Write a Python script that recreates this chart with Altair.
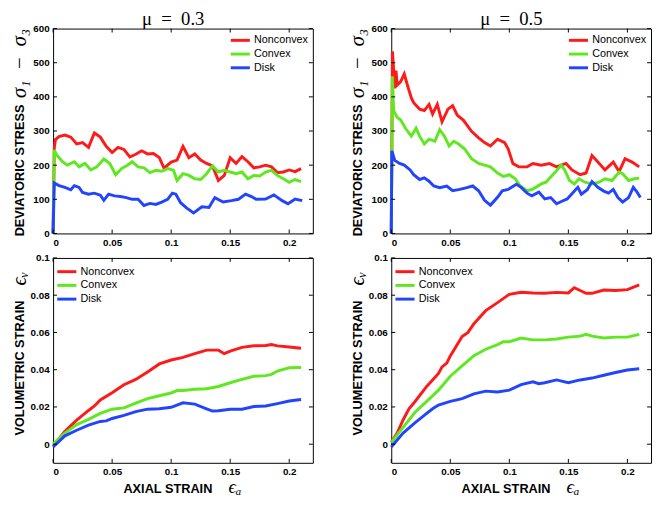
import altair as alt
import pandas as pd

SERIES = ["Nonconvex", "Convex", "Disk"]
COLORS = ["#ff1a1a", "#5fe820", "#2244ff"]

# ---------- mu = 0.3, deviatoric stress ----------
tl_non_x = [0, 0.001, 0.002, 0.005, 0.010, 0.015, 0.020, 0.025, 0.030, 0.035, 0.040, 0.045, 0.050, 0.055, 0.060,
            0.065, 0.070, 0.075, 0.080, 0.085, 0.090, 0.094, 0.100, 0.105, 0.110, 0.115, 0.120, 0.125, 0.130, 0.135,
            0.140, 0.145, 0.150, 0.155, 0.160, 0.165, 0.170, 0.175, 0.180, 0.185, 0.190, 0.195, 0.200, 0.205, 0.210]
tl_non_y = [0, 250, 275, 284, 288, 282, 262, 266, 252, 294, 282, 255, 237, 252, 246,
            224, 232, 242, 233, 234, 222, 191, 209, 215, 255, 222, 233, 215, 205, 198,
            155, 170, 222, 205, 225, 210, 192, 195, 200, 195, 178, 180, 186, 181, 190]
tl_con_x = [0, 0.001, 0.003, 0.008, 0.012, 0.018, 0.022, 0.027, 0.032, 0.037, 0.043, 0.048, 0.053, 0.058, 0.063,
            0.067, 0.072, 0.077, 0.082, 0.087, 0.092, 0.097, 0.102, 0.105, 0.110, 0.115, 0.120, 0.125, 0.130, 0.135,
            0.140, 0.145, 0.150, 0.155, 0.160, 0.165, 0.170, 0.175, 0.180, 0.185, 0.190, 0.195, 0.200, 0.205, 0.210]
tl_con_y = [0, 245, 230, 210, 200, 210, 195, 205, 186, 195, 218, 205, 172, 190, 200,
            210, 195, 192, 178, 185, 182, 190, 185, 155, 175, 170, 160, 158, 175, 198,
            180, 185, 180, 175, 180, 160, 170, 168, 180, 185, 170, 160, 150, 158, 152]
tl_dsk_x = [0, 0.001, 0.005, 0.010, 0.015, 0.018, 0.022, 0.025, 0.030, 0.035, 0.040, 0.043, 0.047, 0.052, 0.057,
            0.062, 0.067, 0.072, 0.077, 0.082, 0.087, 0.092, 0.097, 0.101, 0.104, 0.108, 0.113, 0.119, 0.126, 0.132,
            0.137, 0.144, 0.151, 0.157, 0.163, 0.168, 0.172, 0.180, 0.187, 0.194, 0.199, 0.205, 0.211]
tl_dsk_y = [0, 148, 140, 135, 128, 140, 135, 120, 115, 118, 112, 97, 115, 110, 108,
            105, 100, 100, 82, 88, 85, 92, 100, 118, 115, 90, 75, 60, 78, 76,
            105, 92, 96, 100, 115, 108, 100, 101, 113, 96, 87, 101, 96]

# ---------- mu = 0.5, deviatoric stress ----------
tr_non_x = [0, 0.001, 0.003, 0.004, 0.005, 0.008, 0.011, 0.014, 0.017, 0.019, 0.024, 0.028, 0.032, 0.035, 0.039,
            0.043, 0.048, 0.052, 0.056, 0.061, 0.068, 0.074, 0.079, 0.084, 0.090, 0.096, 0.099, 0.103, 0.108, 0.115,
            0.120, 0.127, 0.134, 0.140, 0.148, 0.153, 0.160, 0.165, 0.170, 0.175, 0.181, 0.188, 0.193, 0.198, 0.204,
            0.210]
tr_non_y = [0, 533, 425, 477, 435, 445, 467, 431, 397, 383, 364, 360, 378, 350, 378,
            327, 364, 374, 346, 332, 299, 280, 266, 256, 276, 266, 248, 205, 195, 195,
            205, 200, 205, 195, 205, 186, 172, 177, 228, 209, 186, 209, 181, 219, 209,
            195]
tr_con_x = [0, 0.001, 0.002, 0.005, 0.008, 0.012, 0.017, 0.021, 0.024, 0.028, 0.032, 0.037, 0.041, 0.045, 0.049,
            0.053, 0.057, 0.062, 0.068, 0.074, 0.079, 0.084, 0.090, 0.095, 0.100, 0.105, 0.109, 0.115, 0.120, 0.127,
            0.131, 0.135, 0.139, 0.144, 0.147, 0.151, 0.155, 0.159, 0.164, 0.170, 0.176, 0.181, 0.187, 0.193, 0.196,
            0.201, 0.206, 0.210]
tr_con_y = [0, 460, 360, 340, 332, 308, 285, 308, 285, 262, 276, 270, 304, 285, 256,
            270, 262, 248, 219, 205, 200, 195, 177, 167, 172, 160, 140, 125, 130, 145,
            150, 165, 180, 200, 185, 155, 145, 160, 150, 145, 150, 160, 155, 180, 175,
            155, 160, 162]
tr_dsk_x = [0, 0.0005, 0.003, 0.007, 0.011, 0.016, 0.019, 0.024, 0.028, 0.032, 0.036, 0.041, 0.047, 0.052, 0.058,
            0.064, 0.069, 0.074, 0.079, 0.084, 0.090, 0.094, 0.099, 0.106, 0.110, 0.115, 0.119, 0.125, 0.130, 0.135,
            0.140, 0.145, 0.149, 0.154, 0.158, 0.161, 0.166, 0.170, 0.175, 0.180, 0.184, 0.188, 0.192, 0.196, 0.201,
            0.205, 0.208, 0.211]
tr_dsk_y = [0, 242, 214, 205, 200, 186, 172, 158, 163, 153, 139, 134, 139, 125, 129,
            134, 139, 125, 97, 83, 106, 125, 129, 144, 135, 118, 110, 121, 101, 105,
            87, 95, 101, 120, 135, 115, 128, 152, 135, 124, 118, 129, 105, 92, 105,
            135, 122, 105]

# ---------- mu = 0.3, volumetric strain ----------
bl_non_x = [0, 0.01, 0.02, 0.03, 0.035, 0.04, 0.05, 0.06, 0.07, 0.08, 0.09, 0.10, 0.11, 0.12, 0.13,
            0.14, 0.145, 0.15, 0.16, 0.17, 0.18, 0.185, 0.19, 0.20, 0.21]
bl_non_y = [-0.001, 0.0069, 0.0129, 0.0181, 0.0205, 0.0238, 0.0276, 0.0319, 0.0348, 0.0388, 0.0431, 0.0452,
            0.0466, 0.0486, 0.0505, 0.0505, 0.0486, 0.050, 0.052, 0.0529, 0.053, 0.0535, 0.0528, 0.0522, 0.0515]
bl_con_x = [0, 0.01, 0.02, 0.03, 0.04, 0.05, 0.06, 0.07, 0.08, 0.09, 0.10, 0.105, 0.11, 0.12, 0.13,
            0.14, 0.15, 0.16, 0.17, 0.18, 0.185, 0.19, 0.20, 0.21]
bl_con_y = [0, 0.006, 0.0105, 0.0133, 0.0165, 0.0188, 0.0195, 0.022, 0.0245, 0.026, 0.0275, 0.0288,
            0.0288, 0.0295, 0.0298, 0.031, 0.033, 0.0348, 0.0365, 0.0368, 0.0375, 0.0393, 0.041, 0.0412]
bl_dsk_x = [0, 0.01, 0.02, 0.03, 0.04, 0.045, 0.05, 0.06, 0.07, 0.08, 0.09, 0.10, 0.11, 0.12, 0.13,
            0.135, 0.14, 0.15, 0.16, 0.17, 0.18, 0.19, 0.20, 0.21]
bl_dsk_y = [-0.0015, 0.0045, 0.0075, 0.0102, 0.0122, 0.0125, 0.0138, 0.0155, 0.0175, 0.0188, 0.019, 0.0198,
            0.0222, 0.0215, 0.019, 0.0178, 0.018, 0.0188, 0.0188, 0.0202, 0.0205, 0.0218, 0.0232, 0.024]

# ---------- mu = 0.5, volumetric strain ----------
br_non_x = [0, 0.005, 0.01, 0.015, 0.02, 0.03, 0.04, 0.043, 0.047, 0.05, 0.06, 0.065, 0.07, 0.08, 0.09,
            0.10, 0.11, 0.12, 0.13, 0.14, 0.15, 0.155, 0.16, 0.165, 0.17, 0.18, 0.19, 0.20, 0.21]
br_non_y = [0.001, 0.006, 0.013, 0.019, 0.0228, 0.031, 0.038, 0.0415, 0.0435, 0.0474, 0.0578, 0.060, 0.0647,
            0.0717, 0.076, 0.0805, 0.0816, 0.0812, 0.081, 0.0815, 0.0812, 0.084, 0.0825, 0.081, 0.081, 0.0828,
            0.0825, 0.083, 0.0855]
br_con_x = [0, 0.01, 0.02, 0.03, 0.04, 0.05, 0.06, 0.07, 0.08, 0.09, 0.095, 0.10, 0.11, 0.12, 0.13,
            0.14, 0.15, 0.16, 0.165, 0.17, 0.18, 0.19, 0.20, 0.21]
br_con_y = [0.001, 0.009, 0.017, 0.023, 0.029, 0.0365, 0.042, 0.0475, 0.051, 0.0535, 0.055, 0.055,
            0.057, 0.056, 0.056, 0.0565, 0.0575, 0.058, 0.059, 0.058, 0.057, 0.0575, 0.0575, 0.059]
br_dsk_x = [0, 0.01, 0.02, 0.03, 0.035, 0.04, 0.05, 0.06, 0.07, 0.08, 0.09, 0.10, 0.11, 0.12, 0.125,
            0.13, 0.14, 0.15, 0.16, 0.17, 0.18, 0.19, 0.20, 0.21]
br_dsk_y = [-0.0015, 0.006, 0.0115, 0.0165, 0.019, 0.021, 0.023, 0.0245, 0.027, 0.0285, 0.028, 0.029,
            0.032, 0.0335, 0.0325, 0.033, 0.0345, 0.033, 0.0345, 0.0355, 0.037, 0.0385, 0.0398, 0.0405]

X_TICKS = [0, 0.05, 0.1, 0.15, 0.2]
STRESS_TICKS = [0, 100, 200, 300, 400, 500, 600]
STRAIN_TICKS = [0, 0.02, 0.04, 0.06, 0.08, 0.1]
X_DOMAIN = [0, 0.22]
STRESS_DOMAIN = [0, 600]
STRAIN_DOMAIN = [-0.01, 0.1]

W, H = 265, 209
SANS = "Liberation Sans"
SERIF = "Liberation Serif"
SP = "\u2002"


def make_df(xs, ys):
    rows = []
    for name, x, y in zip(SERIES, xs, ys):
        for i, (a, b) in enumerate(zip(x, y)):
            rows.append({"series": name, "x": a, "y": b, "order": i})
    return pd.DataFrame(rows)


def panel(df, ydom, yticks, yfmt, ytitle, ymath, ytitle_frac, ymath_frac,
          legend_orient, legend_offset, title=None, xtitle=None):
    xs = alt.Scale(domain=X_DOMAIN, nice=False, zero=False)
    ys = alt.Scale(domain=ydom, nice=False, zero=False)
    if xtitle:
        # titleY is measured from the axis line (bottom of the plot)
        x_axis = alt.Axis(values=X_TICKS, format="~g", title=xtitle, titleX=W * 0.44,
                          titleY=26, titleBaseline="middle")
    else:
        x_axis = alt.Axis(values=X_TICKS, format="~g", title="")
    y_axis = alt.Axis(values=yticks, format=yfmt, title=ytitle, titleX=-34, titleY=H * ytitle_frac,
                      titleBaseline="middle", titleAlign="center", titleAngle=270)
    lines = alt.Chart(df).mark_line(strokeWidth=3).encode(
        x=alt.X("x:Q", scale=xs, axis=x_axis),
        y=alt.Y("y:Q", scale=ys, axis=y_axis),
        color=alt.Color("series:N", sort=SERIES,
                        scale=alt.Scale(domain=SERIES, range=COLORS),
                        legend=alt.Legend(orient=legend_orient, title=None,
                                          symbolType="M-1.5,0H1.5", symbolSize=169,
                                          symbolStrokeWidth=3, labelFont=SANS,
                                          labelFontSize=11, labelOffset=6, rowPadding=0,
                                          offset=legend_offset, padding=0, labelColor="black")),
        order="order:Q",
    )
    tx = pd.DataFrame({"x": X_TICKS})
    ty = pd.DataFrame({"y": yticks})
    tick_style = dict(color="black", strokeWidth=1)
    t_top = alt.Chart(tx).mark_rule(**tick_style).encode(
        x=alt.X("x:Q", scale=xs, axis=x_axis), y=alt.value(0), y2=alt.value(4))
    t_bot = alt.Chart(tx).mark_rule(**tick_style).encode(
        x=alt.X("x:Q", scale=xs, axis=x_axis), y=alt.value(H), y2=alt.value(H - 4))
    t_left = alt.Chart(ty).mark_rule(**tick_style).encode(
        y=alt.Y("y:Q", scale=ys, axis=y_axis), x=alt.value(0), x2=alt.value(4))
    t_right = alt.Chart(ty).mark_rule(**tick_style).encode(
        y=alt.Y("y:Q", scale=ys, axis=y_axis), x=alt.value(W), x2=alt.value(W - 4))
    one = pd.DataFrame({"k": [0]})
    math_y = alt.Chart(one).mark_text(text=ymath, angle=270, font=SERIF, fontStyle="italic",
                                      fontSize=21, baseline="middle", align="center",
                                      color="black").encode(
        x=alt.value(-34), y=alt.value(H * ymath_frac))
    layers = [lines, t_top, t_bot, t_left, t_right, math_y]
    if xtitle:
        math_x = alt.Chart(one).mark_text(text="ϵₐ", font=SERIF, fontStyle="italic",
                                          fontSize=19, baseline="middle", align="left",
                                          color="black").encode(
            x=alt.value(W * 0.675), y=alt.value(H + 25))
        layers.append(math_x)
    if title:
        ttl = alt.Chart(one).mark_text(text=title, font=SERIF, fontSize=19, baseline="alphabetic",
                                       align="center", color="black").encode(
            x=alt.value(W / 2 - 10), y=alt.value(-4))
        layers.append(ttl)
    return alt.layer(*layers).properties(width=W, height=H)


tl = panel(make_df([tl_non_x, tl_con_x, tl_dsk_x], [tl_non_y, tl_con_y, tl_dsk_y]),
           STRESS_DOMAIN, STRESS_TICKS, "d", "DEVIATORIC STRESS", "σ₁" + SP + "−" + SP + "σ₃", 0.69, 0.17,
           "top-right", 4, title="μ" + SP + "=" + SP + "0.3")
tr = panel(make_df([tr_non_x, tr_con_x, tr_dsk_x], [tr_non_y, tr_con_y, tr_dsk_y]),
           STRESS_DOMAIN, STRESS_TICKS, "d", "DEVIATORIC STRESS", "σ₁" + SP + "−" + SP + "σ₃", 0.69, 0.17,
           "top-right", 4, title="μ" + SP + "=" + SP + "0.5")
bl = panel(make_df([bl_non_x, bl_con_x, bl_dsk_x], [bl_non_y, bl_con_y, bl_dsk_y]),
           STRAIN_DOMAIN, STRAIN_TICKS, "~g", "VOLUMETRIC STRAIN", "ϵᵥ", 0.535, 0.10,
           "top-left", 6, xtitle="AXIAL STRAIN")
br = panel(make_df([br_non_x, br_con_x, br_dsk_x], [br_non_y, br_con_y, br_dsk_y]),
           STRAIN_DOMAIN, STRAIN_TICKS, "~g", "VOLUMETRIC STRAIN", "ϵᵥ", 0.535, 0.10,
           "top-left", 6, xtitle="AXIAL STRAIN")

chart = alt.concat(tl, tr, bl, br, columns=2, spacing={"row": 4, "column": 33}).resolve_scale(
    color="independent", x="independent", y="independent"
).resolve_legend(color="independent").configure_view(
    stroke="black", strokeWidth=1
).configure_axis(
    grid=False, domain=False, ticks=False, labelFont=SANS, labelFontWeight="bold",
    labelFontSize=10, labelColor="black", labelPadding=4,
    titleFont=SANS, titleFontWeight="bold", titleFontSize=13, titleColor="black",
).properties(background="white", padding={"top": -4, "left": 0, "right": 0, "bottom": 0})

chart.save("out.html", embed_options={"renderer": "svg", "actions": False})
